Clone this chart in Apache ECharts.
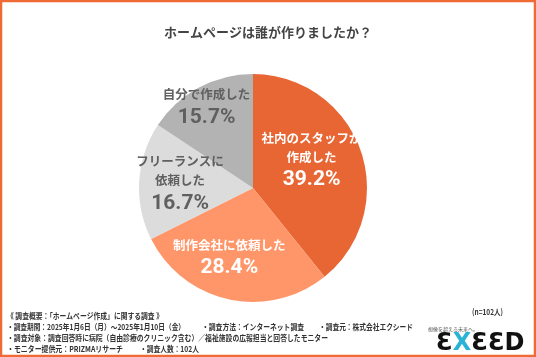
<!DOCTYPE html>
<html><head><meta charset="utf-8">
<script src="https://cdn.jsdelivr.net/npm/echarts@6/dist/echarts.min.js"></script>
<style>html,body{margin:0;padding:0;background:#fff}#c{width:536px;height:357px}</style>
</head><body><div id="c"></div>
<script>
const title = 'ホームページは誰が作りましたか？';
const categories = ['社内のスタッフが\n作成した', '制作会社に依頼した', 'フリーランスに\n依頼した', '自分で作成した'];
const values = [39.2, 28.4, 16.7, 15.7];
const footerTexts = [
  '《 調査概要：「ホームページ作成」に関する調査 》',
  '・調査期間：2025年1月6日（月）～2025年1月10日（金）',
  '・調査方法：インターネット調査',
  '・調査元：株式会社エクシード',
  '・調査対象：調査回答時に病院（自由診療のクリニック含む）／福祉施設の広報担当と回答したモニター',
  '・モニター提供元：PRIZMAリサーチ',
  '・調査人数：102人'
];
const nNote = '(n=102人)';
const logoTagline = '想像を超える未来へ。';

// layout (positions / sizes / styles)
const colors = ['#E86634', '#FF966A', '#DCDCDC', '#B3B3B3'];
const labelColors = ['#ffffff', '#ffffff', '#606060', '#606060'];
const labelShift = [[2, -7], [-11, 12], [-13, 0], [-18, -27]];
// [x, line row, target width]
const footerLayout = [[7, 0, 156], [7, 1, 178], [202, 1, 102], [319, 1, 94], [7, 2, 321], [7, 3, 116], [140, 3, 59]];

const chart = echarts.init(document.getElementById('c'));
const FONT = '"Noto Sans CJK JP", "Noto Sans", sans-serif';
const FS = 8;
const mctx = document.createElement('canvas').getContext('2d');
mctx.font = 'bold ' + FS + 'px ' + FONT;

const data = categories.map((c, i) => ({
  name: c, value: values[i],
  itemStyle: { color: colors[i] },
  label: {
    color: labelColors[i],
    formatter: () => c.split('\n').map(s => '{a|' + s + '}').join('\n') + '\n{b|' + values[i].toFixed(1) + '%}',
    rich: {
      a: { fontSize: 12.5, fontWeight: 'bold', lineHeight: 19, color: labelColors[i], fontFamily: FONT },
      b: { fontSize: 21, fontWeight: 'bold', lineHeight: 27, color: labelColors[i], fontFamily: 'Roboto, sans-serif' }
    }
  }
}));

const txt = (t, x, y, extra, sx) => ({
  type: 'text', x: x, y: y, scaleX: sx || 1,
  style: Object.assign({ text: t, fontSize: FS, fontFamily: FONT, fill: '#333', fontWeight: 'bold', verticalAlign: 'middle', align: 'left' }, extra || {})
});

const footerGraphics = footerTexts.map((t, i) => {
  const L = footerLayout[i];
  const w = mctx.measureText(t).width;
  return txt(t, L[0], 316 + L[1] * 11, null, L[2] / w);
});

chart.setOption({
  backgroundColor: '#fff',
  animation: false,
  title: {
    text: title, left: 'center', top: 21,
    textStyle: { fontSize: 13, fontWeight: 'bold', color: '#444', fontFamily: FONT }
  },
  series: [{
    type: 'pie',
    center: [253, 188],
    radius: [0, 114],
    startAngle: 90,
    clockwise: true,
    data: data,
    label: { show: true, position: 'inside' },
    labelLine: { show: false },
    emphasis: { disabled: true },
    labelLayout: function (p) {
      const s = labelShift[p.dataIndex];
      return { dx: s[0], dy: s[1] };
    }
  }],
  graphic: [
    { type: 'rect', shape: { x: 1, y: 1, width: 534, height: 355 }, style: { fill: 'none', stroke: '#F06A35', lineWidth: 2.5 }, z: 100 },
    txt(nNote, 472, 312, null, 31 / mctx.measureText(nNote).width),
    txt(logoTagline, 428, 329, { fontSize: 5, fill: '#555', fontWeight: 'normal' }),
    { type: 'text', x: 436, y: 344, style: {
        text: '{e|Ɛ}{x|X}{e|ƐƐD}', verticalAlign: 'middle', align: 'left',
        rich: {
          e: { fontSize: 24, fontWeight: 'bold', fill: '#111', fontFamily: '"DejaVu Sans", sans-serif' },
          x: { fontSize: 24, fontWeight: 'bold', fill: '#2AB3D6', fontFamily: '"DejaVu Sans", sans-serif' }
        }
    } }
  ].concat(footerGraphics)
});
</script></body></html>
